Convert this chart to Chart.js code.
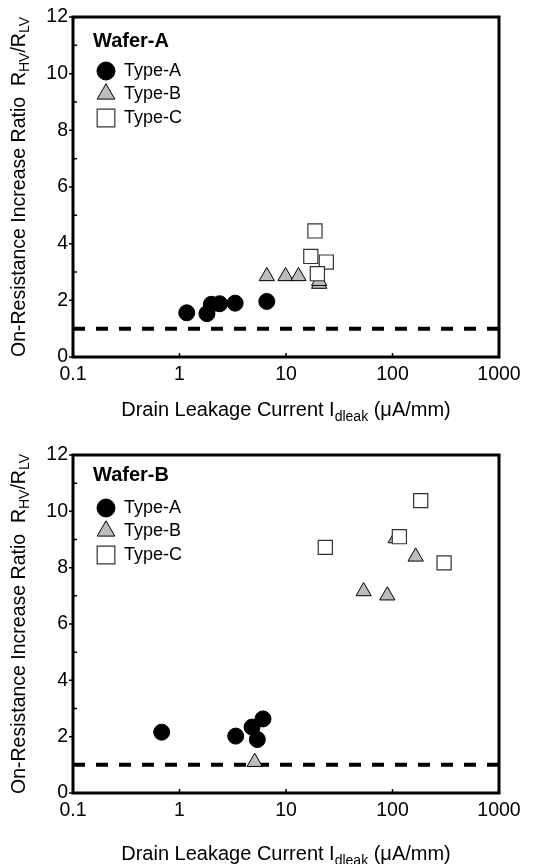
<!DOCTYPE html>
<html>
<head>
<meta charset="utf-8">
<script src="https://cdn.jsdelivr.net/npm/chart.js@4.4.0/dist/chart.umd.min.js"></script>
<style>
  body { margin: 0; background: #fff; }
  canvas { display: block; }
</style>
</head>
<body>
<canvas id="chartA" width="557" height="432"></canvas>
<canvas id="chartB" width="557" height="432"></canvas>
<script>
// axis ticks
const xTicks = [0.1, 1, 10, 100, 1000];
const yTicks = [0, 2, 4, 6, 8, 10, 12];
const yMinorTicks = [1, 3, 5, 7, 9, 11];
const seriesNames = ['Type-A', 'Type-B', 'Type-C'];
const refLevel = 1;

// Wafer-A (x: leakage uA/mm, y: R_HV/R_LV)
const waferATypeAX = [1.17, 1.81, 1.99, 2.38, 3.33, 6.6];
const waferATypeAY = [1.56, 1.53, 1.86, 1.88, 1.90, 1.96];
const waferATypeBX = [6.6, 9.9, 13.1, 20.5, 20.5];
const waferATypeBY = [2.85, 2.85, 2.85, 2.58, 2.68];
const waferATypeCX = [18.7, 17.1, 23.9, 19.7];
const waferATypeCY = [4.45, 3.55, 3.35, 2.94];

// Wafer-B
const waferBTypeAX = [0.68, 3.37, 4.8, 6.08, 5.38];
const waferBTypeAY = [2.16, 2.02, 2.34, 2.63, 1.90];
const waferBTypeBX = [5.08, 53.6, 89.4, 165, 107];
const waferBTypeBY = [1.1, 7.16, 7.01, 8.39, 9.04];
const waferBTypeCX = [23.4, 116, 184, 305];
const waferBTypeCY = [8.72, 9.1, 10.38, 8.17];

const FONT = "'Liberation Sans', Arial, sans-serif";

const markerStyles = [
  { pointStyle: 'circle', radius: 8, legendRadius: 9, backgroundColor: '#000', borderColor: '#000', borderWidth: 1 },
  { pointStyle: 'triangle', radius: 8.8, legendRadius: 10.2, backgroundColor: '#bdbdbd', borderColor: '#000', borderWidth: 1 },
  { pointStyle: 'rect', radius: 10, legendRadius: 12.5, backgroundColor: '#fff', borderColor: '#333', borderWidth: 1.2 }
];

function toPoints(xs, ys) {
  return xs.map((x, i) => ({ x: x, y: ys[i] }));
}

function drawMarker(ctx, st, r, x, y) {
  ctx.fillStyle = st.backgroundColor;
  ctx.strokeStyle = st.borderColor;
  ctx.lineWidth = st.borderWidth;
  if (Chart.helpers && Chart.helpers.drawPoint) {
    Chart.helpers.drawPoint(ctx, { pointStyle: st.pointStyle, radius: r, rotation: 0, borderWidth: st.borderWidth }, x, y);
  }
}

// draws a run of text pieces, some as subscripts, centred on 0
function drawRich(ctx, parts, size, subSize, shift) {
  let w = 0;
  parts.forEach(p => {
    ctx.font = (p.sub ? subSize : size) + 'px ' + FONT;
    p.w = ctx.measureText(p.t).width;
    w += p.w;
  });
  let x = -w / 2;
  parts.forEach(p => {
    ctx.font = (p.sub ? subSize : size) + 'px ' + FONT;
    ctx.fillText(p.t, x, p.sub ? shift : 0);
    x += p.w;
  });
}

const framePlugin = {
  id: 'frame',
  afterDatasetsDraw(chart, args, opts) {
    const { ctx, chartArea: a, scales: { x, y } } = chart;
    ctx.save();
    ctx.strokeStyle = '#000';
    ctx.lineWidth = 1.5;
    ctx.beginPath();
    yMinorTicks.forEach(v => {
      const py = y.getPixelForValue(v);
      ctx.moveTo(a.left, py); ctx.lineTo(a.left + 4, py);
    });
    yTicks.forEach(v => {
      const py = y.getPixelForValue(v);
      ctx.moveTo(a.left - 4, py); ctx.lineTo(a.left, py);
    });
    xTicks.forEach(v => {
      const px = x.getPixelForValue(v);
      ctx.moveTo(px, a.bottom - 4); ctx.lineTo(px, a.bottom);
    });
    ctx.stroke();

    ctx.lineWidth = 3;
    ctx.strokeRect(a.left, a.top, a.right - a.left, a.bottom - a.top);

    // legend
    ctx.fillStyle = '#000';
    ctx.textBaseline = 'middle';
    ctx.textAlign = 'left';
    ctx.font = 'bold 20px ' + FONT;
    ctx.fillText(opts.wafer, 93, opts.waferY);
    seriesNames.forEach((name, i) => {
      const ly = opts.legendY[i];
      drawMarker(ctx, markerStyles[i], markerStyles[i].legendRadius, 106, ly);
      ctx.fillStyle = '#000';
      ctx.font = '18px ' + FONT;
      ctx.fillText(name, 124, ly);
    });

    // axis titles
    ctx.textBaseline = 'alphabetic';
    ctx.save();
    ctx.translate((a.left + a.right) / 2, opts.xTitleY);
    drawRich(ctx, [
      { t: 'Drain Leakage Current I' },
      { t: 'dleak', sub: true },
      { t: ' (\u03BCA/mm)' }
    ], 20, 14, 5);
    ctx.restore();

    ctx.save();
    ctx.translate(25, (a.top + a.bottom) / 2);
    ctx.rotate(-Math.PI / 2);
    drawRich(ctx, [
      { t: 'On-Resistance Increase Ratio  R' },
      { t: 'HV', sub: true },
      { t: '/R' },
      { t: 'LV', sub: true }
    ], 19.5, 14, 4);
    ctx.restore();

    ctx.restore();
  }
};

function makeChart(id, wafer, sets, pos) {
  const datasets = [{
    label: 'ref',
    data: [{ x: xTicks[0], y: refLevel }, { x: xTicks[xTicks.length - 1], y: refLevel }],
    showLine: true,
    borderColor: '#000',
    borderWidth: 4,
    borderDash: [12, 11],
    pointRadius: 0,
    order: 9
  }];
  sets.forEach((s, i) => {
    const st = markerStyles[i];
    datasets.push({
      label: seriesNames[i],
      data: toPoints(s[0], s[1]),
      pointStyle: st.pointStyle,
      pointRadius: st.radius,
      pointHoverRadius: st.radius,
      backgroundColor: st.backgroundColor,
      borderColor: st.borderColor,
      borderWidth: st.borderWidth,
      order: 3 - i
    });
  });

  return new Chart(document.getElementById(id), {
    type: 'scatter',
    data: { datasets: datasets },
    options: {
      responsive: false,
      animation: false,
      devicePixelRatio: 1,
      layout: { padding: { left: 0, right: 58, top: pos.top, bottom: 0 } },
      plugins: {
        legend: { display: false },
        tooltip: { enabled: false },
        frame: { wafer: wafer, waferY: pos.waferY, legendY: pos.legendY, xTitleY: pos.xTitleY }
      },
      scales: {
        x: {
          type: 'logarithmic',
          min: xTicks[0],
          max: xTicks[xTicks.length - 1],
          afterBuildTicks: sc => { sc.ticks = xTicks.map(v => ({ value: v })); },
          afterFit: sc => { sc.height = 432 - pos.bottom; },
          grid: { display: false, drawTicks: false },
          border: { display: false },
          ticks: {
            padding: 6,
            color: '#000',
            font: { family: FONT, size: 19.5 },
            maxRotation: 0,
            autoSkip: false,
            callback: v => String(v)
          }
        },
        y: {
          min: yTicks[0],
          max: yTicks[yTicks.length - 1],
          afterBuildTicks: sc => { sc.ticks = yTicks.map(v => ({ value: v })); },
          afterFit: sc => { sc.width = 73; },
          grid: { display: false, drawTicks: false },
          border: { display: false },
          ticks: {
            padding: 5,
            color: '#000',
            font: { family: FONT, size: 19.5 }
          }
        }
      }
    },
    plugins: [framePlugin]
  });
}

makeChart('chartA', 'Wafer-A',
  [[waferATypeAX, waferATypeAY], [waferATypeBX, waferATypeBY], [waferATypeCX, waferATypeCY]],
  { top: 17, bottom: 357, waferY: 41, legendY: [71, 94, 118], xTitleY: 416 });

makeChart('chartB', 'Wafer-B',
  [[waferBTypeAX, waferBTypeAY], [waferBTypeBX, waferBTypeBY], [waferBTypeCX, waferBTypeCY]],
  { top: 23, bottom: 361, waferY: 43, legendY: [76, 99, 123], xTitleY: 428 });
</script>
</body>
</html>
